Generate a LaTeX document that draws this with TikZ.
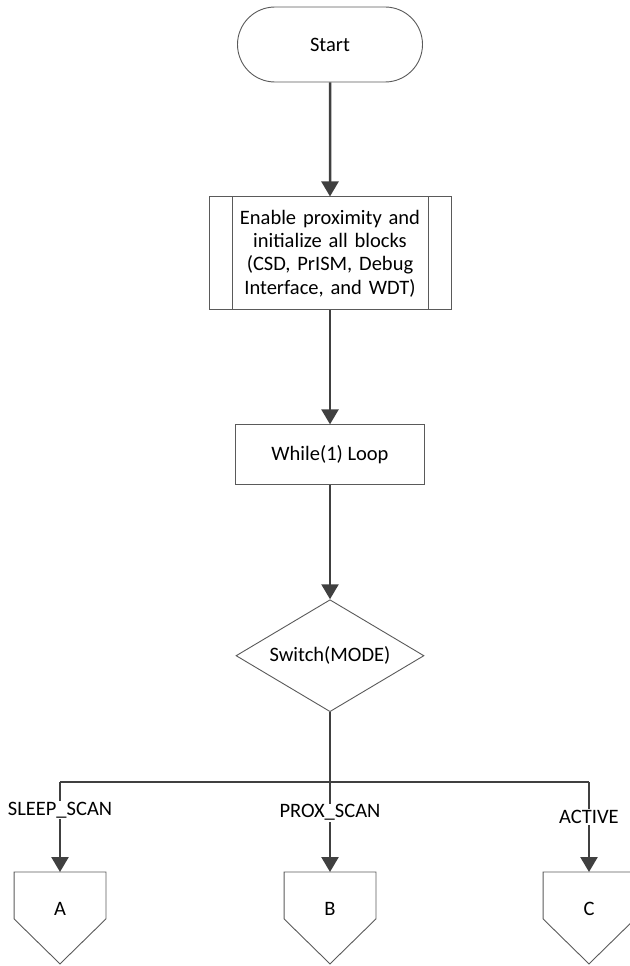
\documentclass[tikz,border=0pt]{standalone}
\usepackage{fontspec}
\setmainfont{Carlito}
\usepackage{tikz}
\usetikzlibrary{shapes.geometric, shapes.misc, arrows.meta, positioning}
\definecolor{cline}{HTML}{404040}
\definecolor{cedge}{HTML}{5A5A5A}
\tikzset{
  shp/.style={draw=cedge, line width=0.9pt, fill=white, align=center,
              font=\fontsize{20.5}{23.3}\selectfont, inner sep=2pt},
  terminal/.style={shp, rounded rectangle, minimum width=189pt, minimum height=75pt},
  predef/.style={shp, rectangle, minimum width=242pt, minimum height=113pt, text width=200pt,
                 path picture={
                   \draw[draw=cedge, line width=0.9pt]
                     ([xshift=23pt]path picture bounding box.north west) -- ([xshift=23pt]path picture bounding box.south west)
                     ([xshift=-23pt]path picture bounding box.north east) -- ([xshift=-23pt]path picture bounding box.south east);}},
  procbox/.style={shp, rectangle, minimum width=189pt, minimum height=60pt},
  decide/.style={shp, diamond, aspect=1.68, inner sep=0pt, minimum width=188pt, minimum height=112pt},
  offpage/.style={shp, draw=none, fill=none, rectangle, minimum width=91pt, minimum height=72pt, anchor=north},
  edge/.style={draw=cedge, line width=0.9pt},
  flow/.style={-{Triangle[length=15pt, width=17pt]}, draw=cline, line width=2.5pt},
  wire/.style={draw=cline, line width=2.5pt},
  lbl/.style={fill=white, inner sep=1pt, font=\fontsize{20.5}{23.3}\selectfont}
}
\begin{document}
\begin{tikzpicture}[x=1pt, y=1pt, node distance=114pt]
  \useasboundingbox (0,0) rectangle (629,-966);
  \node[terminal] (start) at (330,-44.5) {Start};
  \node[predef, below=of start] (init) {Enable proximity and\\initialize all blocks\\(CSD, PrISM, Debug\\Interface, and WDT)};
  \node[procbox, below=of init] (loop) {While(1) Loop};
  \node[decide, below=of loop] (sw) {Switch(MODE)};
  \coordinate (jB) at (330,-782);
  \coordinate (jA) at (60,-782);
  \coordinate (jC) at (589,-782);
  % off-page connectors
  \node[offpage] (pa) at (60,-872) {A};
  \node[offpage] (pb) at (330,-872) {B};
  \node[offpage] (pc) at (589,-872) {C};
  \foreach \n in {pa,pb,pc}
    \draw[edge] (\n.north west) -- (\n.north east) -- ([yshift=26pt]\n.south east)
      -- ([yshift=-19pt]\n.south) -- ([yshift=26pt]\n.south west) -- cycle;
  \draw[flow] (start) -- (init);
  \draw[flow] (init) -- (loop);
  \draw[flow] (loop) -- (sw);
  \draw[wire] (sw.south) -- (jB);
  \draw[wire] (jA) -- (jC);
  \draw[flow] (jA) -- node[lbl, pos=0.31] {SLEEP\_SCAN} (pa.north);
  \draw[flow] (jB) -- node[lbl, pos=0.34] {PROX\_SCAN} (pb.north);
  \draw[flow] (jC) -- node[lbl, pos=0.39] {ACTIVE} (pc.north);
\end{tikzpicture}
\end{document}
